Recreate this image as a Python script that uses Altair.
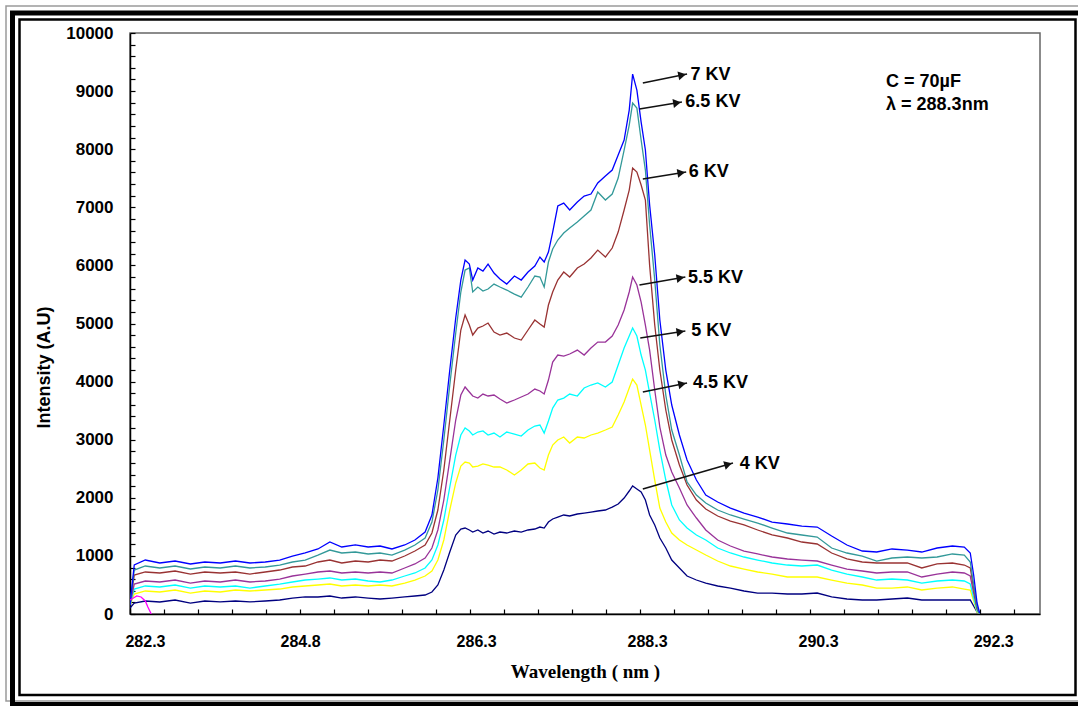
import math
import altair as alt
import pandas as pd

# ---------------- data ----------------
wavelength = [
    282.30, 282.35, 282.48, 282.65, 282.83, 283.01, 283.18, 283.36, 283.54, 283.71,
    283.89, 284.06, 284.21, 284.36, 284.51, 284.65, 284.79, 284.95, 285.10, 285.24,
    285.38, 285.53, 285.65, 285.77, 285.85, 285.92, 285.99, 286.06, 286.13, 286.19,
    286.24, 286.29, 286.33, 286.39, 286.45, 286.51, 286.58, 286.65, 286.73, 286.82,
    286.90, 286.98, 287.06, 287.12, 287.17, 287.22, 287.27, 287.33, 287.40, 287.47,
    287.56, 287.64, 287.72, 287.80, 287.89, 287.97, 288.04, 288.11, 288.17, 288.21,
    288.26, 288.31, 288.36, 288.41, 288.47, 288.53, 288.60, 288.67, 288.76, 288.85,
    288.96, 289.07, 289.21, 289.36, 289.52, 289.68, 289.85, 290.03, 290.20, 290.38,
    290.55, 290.73, 290.91, 291.08, 291.26, 291.44, 291.61, 291.79, 291.97, 292.11,
    292.18, 292.22, 292.26, 292.29,
]

kv7 = [
    155, 843, 929, 878, 912, 861, 895, 878, 912, 878,
    895, 929, 998, 1050, 1119, 1239, 1153, 1188, 1153, 1170,
    1119, 1188, 1274, 1411, 1704, 2341, 3253, 4199, 5094, 5748,
    6092, 6023, 5748, 5955, 5903, 6023, 5869, 5765, 5679, 5817,
    5748, 5886, 5989, 6144, 6058, 6230, 6574, 7022, 7073, 6953,
    7091, 7194, 7228, 7418, 7538, 7641, 7900, 8158, 8674, 9293,
    9018, 8467, 7986, 7039, 6178, 5060, 4199, 3597, 3081, 2650,
    2306, 2048, 1928, 1824, 1738, 1669, 1583, 1549, 1514, 1497,
    1342, 1187, 1084, 1067, 1119, 1101, 1067, 1136, 1170, 1153,
    1050, 671, 189, 17,
]
kv65 = [
    155, 757, 826, 792, 826, 775, 809, 792, 826, 792,
    809, 843, 895, 929, 1015, 1101, 1050, 1067, 1033, 1050,
    1015, 1101, 1188, 1308, 1583, 2134, 2995, 3941, 4836, 5542,
    5920, 5955, 5542, 5628, 5559, 5593, 5679, 5628, 5576, 5507,
    5455, 5628, 5817, 5800, 5628, 6058, 6282, 6437, 6557, 6643,
    6746, 6849, 6953, 7263, 7125, 7228, 7504, 7986, 8416, 8794,
    8708, 8158, 7641, 6695, 5748, 4629, 3769, 3167, 2736, 2272,
    2048, 1910, 1790, 1704, 1635, 1566, 1480, 1394, 1360, 1325,
    1136, 1050, 998, 912, 964, 981, 964, 981, 1033, 1015,
    895, 499, 120, 0,
]
kv6 = [
    155, 671, 723, 706, 740, 688, 723, 706, 723, 688,
    723, 757, 809, 826, 895, 929, 878, 912, 895, 929,
    912, 998, 1084, 1188, 1394, 1790, 2478, 3339, 4199, 4888,
    5146, 4974, 4802, 4922, 4957, 5008, 4853, 4802, 4836, 4750,
    4716, 4888, 5060, 4991, 4939, 5318, 5542, 5748, 5886, 5800,
    5955, 6023, 6127, 6264, 6144, 6299, 6574, 6953, 7297, 7676,
    7607, 7383, 7125, 6000, 4974, 4199, 3511, 2995, 2564, 2220,
    1962, 1807, 1687, 1600, 1532, 1446, 1360, 1308, 1239, 1205,
    1050, 947, 895, 878, 878, 878, 792, 861, 878, 843,
    792, 447, 103, 0,
]
kv55 = [
    155, 516, 568, 551, 585, 533, 568, 551, 585, 551,
    568, 602, 654, 688, 723, 740, 706, 723, 706, 723,
    706, 792, 861, 964, 1136, 1446, 1962, 2650, 3339, 3769,
    3907, 3821, 3752, 3717, 3786, 3752, 3769, 3700, 3631, 3683,
    3735, 3786, 3872, 3838, 3786, 4027, 4337, 4457, 4440, 4475,
    4543, 4457, 4578, 4681, 4681, 4784, 4974, 5232, 5542, 5800,
    5662, 5369, 4974, 4543, 3855, 3218, 2736, 2444, 2168, 1876,
    1652, 1446, 1274, 1170, 1084, 1033, 981, 947, 929, 912,
    843, 774, 740, 706, 723, 723, 637, 688, 723, 706,
    654, 361, 86, 0,
]
kv5 = [
    155, 430, 482, 465, 499, 447, 482, 465, 482, 447,
    482, 516, 551, 585, 602, 620, 585, 602, 568, 551,
    585, 654, 706, 792, 929, 1188, 1618, 2186, 2736, 3081,
    3201, 3150, 3081, 3132, 3150, 3081, 3115, 3046, 3132, 3098,
    3063, 3167, 3235, 3253, 3115, 3322, 3545, 3683, 3717, 3786,
    3752, 3890, 3941, 3976, 3907, 3993, 4285, 4578, 4784, 4922,
    4784, 4457, 4199, 3803, 3339, 2822, 2306, 1876, 1618, 1480,
    1360, 1274, 1136, 1050, 981, 929, 878, 843, 826, 843,
    757, 688, 637, 585, 602, 585, 533, 568, 585, 568,
    516, 275, 52, 0,
]
kv45 = [
    155, 344, 396, 379, 413, 361, 396, 379, 413, 396,
    413, 430, 465, 482, 499, 516, 482, 499, 482, 499,
    482, 533, 585, 654, 740, 929, 1274, 1790, 2255, 2547,
    2616, 2599, 2530, 2547, 2582, 2564, 2530, 2530, 2478, 2392,
    2478, 2582, 2599, 2513, 2478, 2736, 2908, 2995, 3046, 2943,
    3046, 3029, 3081, 3115, 3167, 3218, 3425, 3649, 3890, 4044,
    3941, 3597, 3253, 2822, 2306, 1824, 1583, 1394, 1274, 1188,
    1101, 1015, 912, 826, 774, 723, 688, 637, 637, 637,
    585, 533, 499, 447, 447, 465, 413, 447, 465, 430,
    413, 224, 34, 0,
]
kv4 = [
    103, 189, 224, 207, 241, 189, 224, 207, 224, 207,
    224, 241, 275, 293, 293, 310, 275, 293, 275, 258,
    275, 293, 310, 327, 379, 499, 757, 1067, 1360, 1463,
    1480, 1446, 1411, 1446, 1394, 1428, 1377, 1411, 1394, 1428,
    1411, 1446, 1463, 1497, 1480, 1583, 1635, 1669, 1704, 1687,
    1721, 1738, 1755, 1773, 1790, 1841, 1893, 1996, 2117, 2203,
    2151, 2100, 1962, 1704, 1532, 1308, 1136, 929, 792, 654,
    585, 533, 482, 447, 396, 361, 361, 344, 344, 361,
    293, 258, 241, 241, 258, 275, 241, 241, 241, 241,
    241, 138, 34, 0,
]
# short unlabeled magenta trace at the far left
magenta_wl = [282.30, 282.34, 282.38, 282.43, 282.48, 282.51, 282.55]
magenta_i = [241, 275, 310, 293, 224, 120, 0]

series_names = ["4 KV", "4.5 KV", "5 KV", "5.5 KV", "6 KV", "6.5 KV", "7 KV", "trace"]
series_values = [kv4, kv45, kv5, kv55, kv6, kv65, kv7]
series_colors = ["#000080", "#FFFF00", "#00FFFF", "#993399", "#993333", "#339999", "#0000FF", "#FF00FF"]

# arrows + labels
arrow_label = ["7 KV", "6.5 KV", "6 KV", "5.5 KV", "5 KV", "4.5 KV", "4 KV"]
arrow_x0 = [288.33, 288.29, 288.33, 288.29, 288.30, 288.33, 288.33]
arrow_y0 = [9139, 8691, 7486, 5662, 4750, 3821, 2151]
arrow_x1 = [288.85, 288.79, 288.84, 288.83, 288.83, 288.85, 289.39]
arrow_y1 = [9293, 8812, 7607, 5800, 4870, 3976, 2599]
label_x = [288.89, 288.83, 288.87, 288.86, 288.90, 288.92, 289.47]
label_y = [9276, 8812, 7607, 5783, 4870, 3976, 2582]

info_text = ["C = 70\u00b5F", "\u03bb = 288.3nm"]
info_x = [291.19, 291.19]
info_y = [9156, 8760]

x_label_pos = [282.476, 284.30, 286.37, 288.38, 290.39, 292.45]
x_label_text = ["282.3", "284.8", "286.3", "288.3", "290.3", "292.3"]
x_minor = [round(282.3 + 0.4 * k, 2) for k in range(27)]
y_major = list(range(0, 10001, 1000))
y_minor = list(range(0, 10001, 200))

# ---------------- build tables ----------------
rows = []
for name, vals in zip(series_names, series_values):
    for w, v in zip(wavelength, vals):
        rows.append({"wavelength": w, "intensity": v, "series": name})
for w, v in zip(magenta_wl, magenta_i):
    rows.append({"wavelength": w, "intensity": v, "series": "trace"})
df = pd.DataFrame(rows)

W, H = 910, 581
XD = [282.3, 293.0]
YD = [0, 10000]
kx = W / (XD[1] - XD[0])
ky = H / (YD[1] - YD[0])

hx, hy, ang = [], [], []
for x0, y0, x1, y1 in zip(arrow_x0, arrow_y0, arrow_x1, arrow_y1):
    dx = (x1 - x0) * kx
    dy = -(y1 - y0) * ky
    L = math.hypot(dx, dy)
    ux, uy = dx / L, dy / L
    hx.append(x1 - 5 * ux / kx)
    hy.append(y1 + 5 * uy / ky)
    ang.append(math.degrees(math.atan2(uy, ux)) % 360)

arrows = pd.DataFrame({
    "label": arrow_label, "x0": arrow_x0, "y0": arrow_y0, "x1": arrow_x1, "y1": arrow_y1,
    "hx": hx, "hy": hy, "angle": ang, "lx": label_x, "ly": label_y,
})
info = pd.DataFrame({"t": info_text, "ix": info_x, "iy": info_y})

# label expression for the bottom axis
conds = []
for i in range(len(x_label_pos) - 1):
    mid = (x_label_pos[i] + x_label_pos[i + 1]) / 2
    conds.append(f"datum.value < {mid:.3f} ? '{x_label_text[i]}'")
label_expr = " : ".join(conds) + f" : '{x_label_text[-1]}'"

xs = alt.Scale(domain=XD, nice=False, zero=False)
ys = alt.Scale(domain=YD, nice=False, zero=False)

main_x_axis = alt.Axis(
    orient="bottom", values=x_label_pos, labelExpr=label_expr, ticks=False, tickSize=0,
    grid=False, domain=True, domainColor="black", domainWidth=1.5,
    labelFont="Liberation Sans", labelFontSize=16, labelFontWeight="bold",
    labelColor="black", labelPadding=19, labelFlush=False, labelOverlap=False,
    titleFont="Liberation Serif", titleFontSize=19, titleFontWeight="bold",
    titleColor="black", titlePadding=13,
)
main_y_axis = alt.Axis(
    orient="left", values=y_major, format="d", ticks=False, tickSize=0, grid=False,
    domain=True, domainColor="black", domainWidth=1.5,
    labelFont="Liberation Sans", labelFontSize=17, labelFontWeight="bold",
    labelColor="black", labelPadding=17,
    titleFont="Liberation Sans", titleFontSize=18, titleFontWeight="bold",
    titleColor="black", titlePadding=12, titleY=334,
)

lines = alt.Chart(df).mark_line(strokeWidth=1.3, clip=True).encode(
    x=alt.X("wavelength:Q", scale=xs, axis=main_x_axis, title="Wavelength ( nm )"),
    y=alt.Y("intensity:Q", scale=ys, axis=main_y_axis, title="Intensity (A.U)"),
    color=alt.Color("series:N", scale=alt.Scale(domain=series_names, range=series_colors), legend=None),
)

rules = alt.Chart(arrows).mark_rule(color="#111111", strokeWidth=1.6).encode(
    x=alt.X("x0:Q", scale=xs, axis=None),
    y=alt.Y("y0:Q", scale=ys, axis=None),
    x2="x1:Q", y2="y1:Q",
)
heads = alt.Chart(arrows).mark_point(shape="triangle-right", filled=True, color="#111111",
                                     size=80, opacity=1).encode(
    x=alt.X("hx:Q", scale=xs, axis=None),
    y=alt.Y("hy:Q", scale=ys, axis=None),
    angle=alt.Angle("angle:Q", scale=None),
)
labels = alt.Chart(arrows).mark_text(align="left", baseline="middle", font="Liberation Sans",
                                     fontSize=18, fontWeight="bold", color="black").encode(
    x=alt.X("lx:Q", scale=xs, axis=None),
    y=alt.Y("ly:Q", scale=ys, axis=None),
    text="label:N",
)
info_layer = alt.Chart(info).mark_text(align="left", baseline="middle", font="Liberation Sans",
                                       fontSize=18, fontWeight="bold", color="black").encode(
    x=alt.X("ix:Q", scale=xs, axis=alt.Axis(
        orient="top", offset=-H, values=x_minor, labels=False, domain=False, grid=False,
        ticks=True, tickSize=5, tickColor="black", tickWidth=1.2, title="")),
    y=alt.Y("iy:Q", scale=ys, axis=alt.Axis(
        orient="right", offset=-W, values=y_minor, labels=False, domain=False, grid=False,
        ticks=True, tickSize=5, tickColor="black", tickWidth=1.2, title="")),
    text="t:N",
)

one = pd.DataFrame({"k": [0]})
frame_gray = alt.Chart(one).mark_rect(filled=False, stroke="#9a9a9a", strokeWidth=1.5).encode(
    x=alt.value(-124), x2=alt.value(960), y=alt.value(-27), y2=alt.value(668))
frame_thick = alt.Chart(one).mark_rect(filled=False, stroke="black", strokeWidth=5).encode(
    x=alt.value(-117.5), x2=alt.value(960), y=alt.value(-20), y2=alt.value(671.5))
frame_inner = alt.Chart(one).mark_rect(filled=False, stroke="black", strokeWidth=2.5).encode(
    x=alt.value(-110.5), x2=alt.value(945.5), y=alt.value(-13.5), y2=alt.value(662))

chart = alt.layer(
    frame_gray, frame_thick, frame_inner, lines, rules, heads, labels, info_layer
).resolve_axis(x="independent", y="independent").properties(
    width=W, height=H,
    padding={"left": 130, "top": 33, "right": 38, "bottom": 92},
    autosize=alt.AutoSizeParams(type="none"),
    background="white",
).configure_view(stroke="#666666", strokeWidth=1.5)

chart.save("out.html", embed_options={"renderer": "svg", "actions": False})
